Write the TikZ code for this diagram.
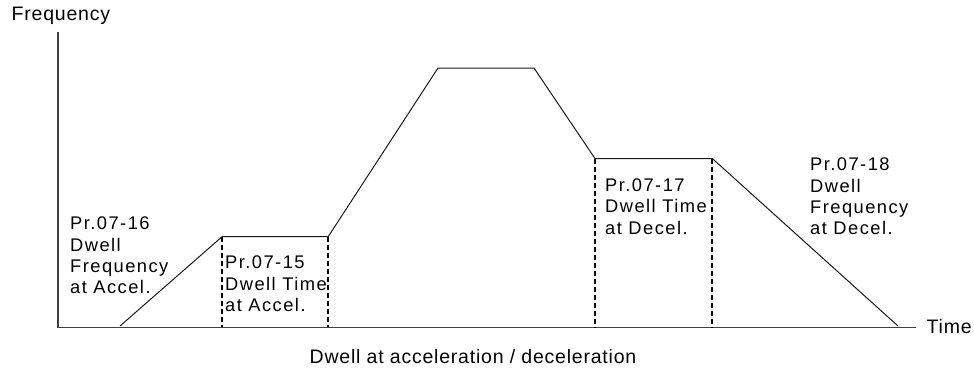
\documentclass[tikz,border=0pt]{standalone}
\usepackage{fontspec}
\setmainfont{Liberation Sans}
\begin{document}
\begin{tikzpicture}[x=1pt,y=-1pt,
  lbl/.style={inner sep=0pt,align=left,anchor=north west,
    font=\fontsize{18.3}{21.4}\selectfont\addfontfeatures{LetterSpace=8}},
  axlbl/.style={inner sep=0pt,font=\fontsize{19.5}{22}\selectfont\addfontfeatures{LetterSpace=4}},
  axisline/.style={line width=1.4pt,draw=black!75},
  curve/.style={line width=1pt,draw=black!90},
  dwell/.style={line width=2pt,dash pattern=on 5pt off 3pt}]
\useasboundingbox (0,0) rectangle (974,368);
% axes
\coordinate (O) at (58,327.5);
\coordinate (ytop) at (58,32);
\coordinate (xend) at (916,327.5);
\draw[axisline] (ytop) -- (O) -- (xend);
\node[axlbl,anchor=north west] (freq) at (11.5,6.5) {Frequency};
\node[axlbl,anchor=base west] (time) at (926.5,333.3) {Time};
\node[axlbl,anchor=base] (cap) at (473,363) {Dwell at acceleration / deceleration};
% curve
\coordinate (p0) at (120,326);
\coordinate (p1) at (222.3,236.5);
\coordinate (p2) at (328.3,236.5);
\coordinate (p3) at (438,68);
\coordinate (p4) at (534,68);
\coordinate (p5) at (595,158.5);
\coordinate (p6) at (712.3,158.5);
\coordinate (p7) at (898,326);
\draw[curve] (p0) -- (p1) -- (p2) -- (p3) -- (p4) -- (p5) -- (p6) -- (p7);
% dashed
\coordinate (b1) at (222.3,327);
\coordinate (b2) at (328.3,327);
\coordinate (b5) at (595,327);
\coordinate (b6) at (712.3,327);
\draw[dwell] (p1) -- (b1);
\draw[dwell] (p2) -- (b2);
\draw[dwell] (p5) -- (b5);
\draw[dwell] (p6) -- (b6);
% labels
\node[lbl] (t16) at (70,216.7) {Pr.07-16\\Dwell\\Frequency\\at Accel.};
\node[lbl] (t15) at (225,255.7) {Pr.07-15\\Dwell Time\\at Accel.};
\node[lbl] (t17) at (605,178.3) {Pr.07-17\\Dwell Time\\at Decel.};
\node[lbl] (t18) at (810,157.7) {Pr.07-18\\Dwell\\Frequency\\at Decel.};
\end{tikzpicture}
\end{document}
